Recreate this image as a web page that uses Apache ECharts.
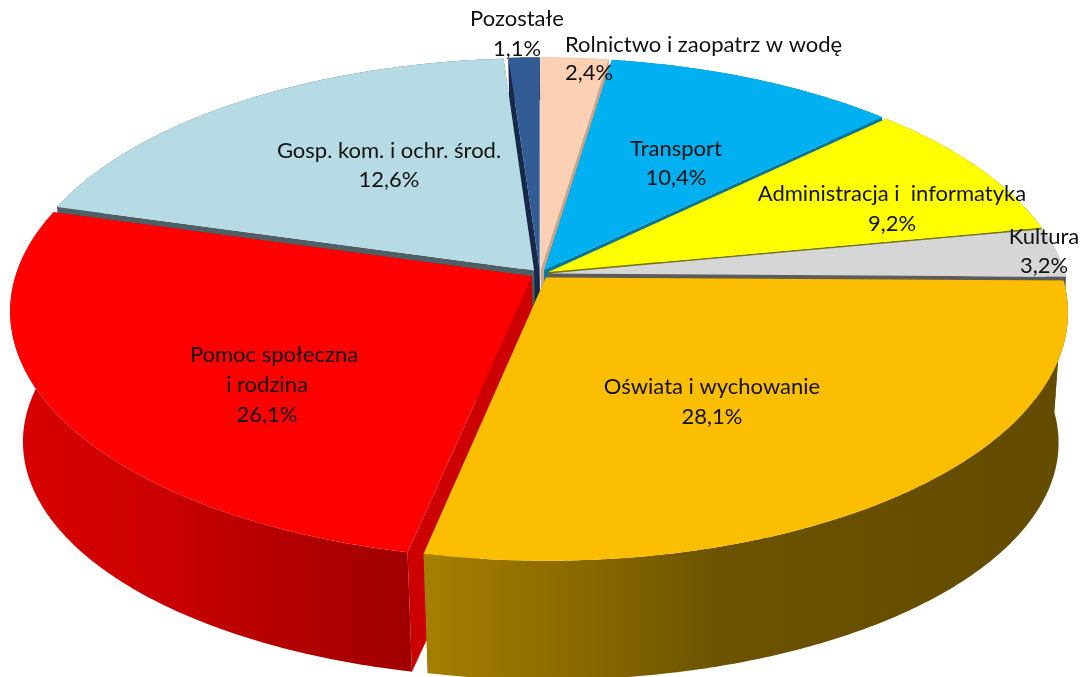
<!DOCTYPE html>
<html><head><meta charset="utf-8">
<style>html,body{margin:0;padding:0;background:#fff}#c{width:1081px;height:677px}</style>
<script src="https://cdn.jsdelivr.net/npm/echarts@6/dist/echarts.min.js"></script>
</head><body><div id="c"></div>
<script>
// Data: clockwise from 12 o'clock. sliceShares = drawn angular share, printedValues = labels in the picture
const categories = ['Rolnictwo i zaopatrz w wodę','Transport','Administracja i  informatyka','Kultura','Oświata i wychowanie','Pomoc społeczna\ni rodzina','Gosp. kom. i ochr. środ.','Pozostałe'];
const sliceShares = [2.4,10.4,9.2,3.2,28.1,26.1,19.5,1.1];
const printedValues = ['2,4%','10,4%','9,2%','3,2%','28,1%','26,1%','12,6%','1,1%'];

// Style
const topColors  = ['#fbd0b5','#00b0f0','#ffff00','#d6d6d6','#fcbe00','#ff0000','#b7dbe4','#335c94'];
const faceColors = ['#c9a58c','#00779f','#787800','#5c5c5c','#8f6e00','#cc0000','#4e5f66','#16294a'];
const wallStops = {
  4:[[0,'#a57f00'],[0.22,'#8c6c00'],[0.46,'#6c5300'],[1,'#634b00']],
  5:[[0,'#d80000'],[0.35,'#cc0000'],[0.7,'#b20000'],[1,'#a00000']]
};
const paintOrder = [7,0,1,2,3,6,5,4];
const frontSlices = [4,5];
const fullFaceSlices = [4,5,7];

// Layout: perspective of the pie plane
const CX=540, CY=274, RX=523.7, RY=246.5, K=0.1413, RADIUS=0.985, EXPLODE=0.018;
const BOTTOM_CX=620, BOTTOM_SCALE_X=0.979, BOTTOM_SCALE_Y=0.955, DEPTH=132, BACK_DEPTH_FRACTION=0.3;
const labelLines = [
  {align:'left',at:[[565,45],[565,73]]},
  {align:'center',at:[[676,149],[676,178]]},
  {align:'center',at:[[892,194],[892,224]]},
  {align:'center',at:[[1044,237],[1044,266]]},
  {align:'center',at:[[712,387],[712,417]]},
  {align:'center',at:[[274,355],[267,385],[267,415]]},
  {align:'center',at:[[389,151],[389,180]]},
  {align:'center',at:[[517,19],[517,49]]}
];

const total = sliceShares.reduce((a,b)=>a+b,0);
let acc=0; const spans = sliceShares.map(v=>{const s=acc; acc+=v; return [s/total*Math.PI*2, acc/total*Math.PI*2];});
const rows = paintOrder.map(i=>[spans[i][0],spans[i][1],i]);

function planeTop(u,v){const w=1-K*v; return [CX+RX*u/w, CY+RY*v/w];}
function planeBottom(p,f){
  const q=[BOTTOM_CX+(p[0]-BOTTOM_CX)*BOTTOM_SCALE_X, CY+DEPTH+BOTTOM_SCALE_Y*(p[1]-CY)];
  return [p[0]+(q[0]-p[0])*f, p[1]+(q[1]-p[1])*f];
}

function renderSlice(params,api){
  const a0=api.value(0), a1=api.value(1), idx=api.value(2), mid=(a0+a1)/2;
  const f=frontSlices.includes(idx)?1:BACK_DEPTH_FRACTION;
  const ff=fullFaceSlices.includes(idx)?1:BACK_DEPTH_FRACTION;
  const ou=EXPLODE*Math.sin(mid), ov=-EXPLODE*Math.cos(mid);
  const apex=planeTop(ou,ov), arc=[];
  const n=Math.max(6,Math.ceil((a1-a0)/0.01));
  for(let i=0;i<=n;i++){const a=a0+(a1-a0)*i/n; arc.push(planeTop(ou+RADIUS*Math.sin(a), ov-RADIUS*Math.cos(a)));}
  const first=arc[0], last=arc[arc.length-1], low=p=>planeBottom(p,f), lowFace=p=>planeBottom(p,ff);
  const wallFill = wallStops[idx]
    ? {type:'linear',x:0,y:0,x2:1,y2:0,colorStops:wallStops[idx].map(s=>({offset:s[0],color:s[1]}))}
    : faceColors[idx];
  const children=[
    {type:'polygon',shape:{points:[apex,first,lowFace(first),lowFace(apex)]},style:{fill:faceColors[idx]}},
    {type:'polygon',shape:{points:arc.concat(arc.map(low).reverse())},style:{fill:wallFill}},
    {type:'polygon',shape:{points:[apex].concat(arc)},style:{fill:topColors[idx]}}
  ];
  if(idx!==7) children.unshift({type:'polygon',shape:{points:[apex,last,lowFace(last),lowFace(apex)]},style:{fill:faceColors[idx]}});
  return {type:'group',children};
}
function renderLabel(params,api){
  const i=params.dataIndex, a=labelLines[i];
  const lines=categories[i].split('\n').concat(printedValues[i]);
  return {type:'group',children:lines.map((t,j)=>({type:'text',style:{text:t,x:a.at[j][0],y:a.at[j][1],align:a.align,verticalAlign:'middle',
    font:'22px Lato, sans-serif',fill:'#111'}}))};
}
const chart=echarts.init(document.getElementById('c'),null,{renderer:'canvas'});
chart.setOption({
  animation:false,backgroundColor:'#fff',
  series:[
    {type:'custom',coordinateSystem:'none',silent:true,data:rows,renderItem:renderSlice,encode:{}},
    {type:'custom',coordinateSystem:'none',silent:true,z:5,data:categories.map((c,i)=>[i]),renderItem:renderLabel,encode:{}}
  ]
});
</script></body></html>
